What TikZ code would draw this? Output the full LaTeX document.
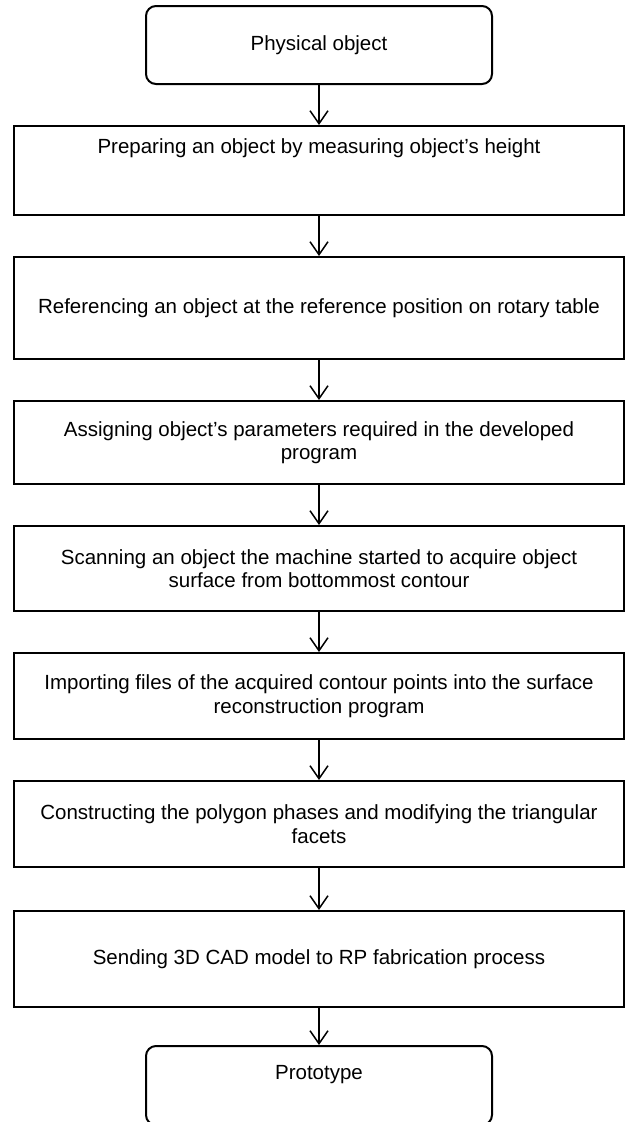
\documentclass[tikz,border=0pt]{standalone}
\usepackage{fontspec}
\setmainfont{Liberation Sans}
\usetikzlibrary{arrows.meta}

\begin{document}
\begin{tikzpicture}[x=1pt,y=1pt,font=\fontsize{20.5}{23.5}\selectfont,
  stage/.style={draw,line width=2pt,align=center,inner sep=4pt,minimum width=610},
  term/.style={draw,line width=2pt,rounded corners=10pt,align=center,minimum width=346},
  flow/.style={-{Straight Barb[length=13pt,width=18pt]},line width=1.5pt}]
\useasboundingbox (0,0) rectangle (627,-1122);
\node[term,minimum height=78] (phys) at (319,-45) {Physical object};
\node[stage,minimum height=89,inner ysep=0pt,text height=27pt,text depth=62pt] (s1) at (319,-170.5) {Preparing an object by measuring object's height};
\node[stage,minimum height=102] (s2) at (319,-308) {Referencing an object at the reference position on rotary table};
\node[stage,minimum height=83] (s3) at (319,-442.5) {Assigning object's parameters required in the developed\\program};
\node[stage,minimum height=85] (s4) at (319,-568.5) {Scanning an object the machine started to acquire object\\surface from bottommost contour};
\node[stage,minimum height=86] (s5) at (319,-696) {Importing files of the acquired contour points into the surface\\reconstruction program};
\node[stage,minimum height=86] (s6) at (319,-824) {Constructing the polygon phases and modifying the triangular\\facets};
\node[stage,minimum height=96] (s7) at (319,-959) {Sending 3D CAD model to RP fabrication process};
\node[term,minimum height=79,inner ysep=0pt,text height=33pt,text depth=46pt] (proto) at (319,-1085.5) {Prototype};
\foreach \u/\v in {phys/s1,s1/s2,s2/s3,s3/s4,s4/s5,s5/s6,s6/s7,s7/proto} {\draw[flow] (\u.south) -- (\v.north);}
\end{tikzpicture}
\end{document}
